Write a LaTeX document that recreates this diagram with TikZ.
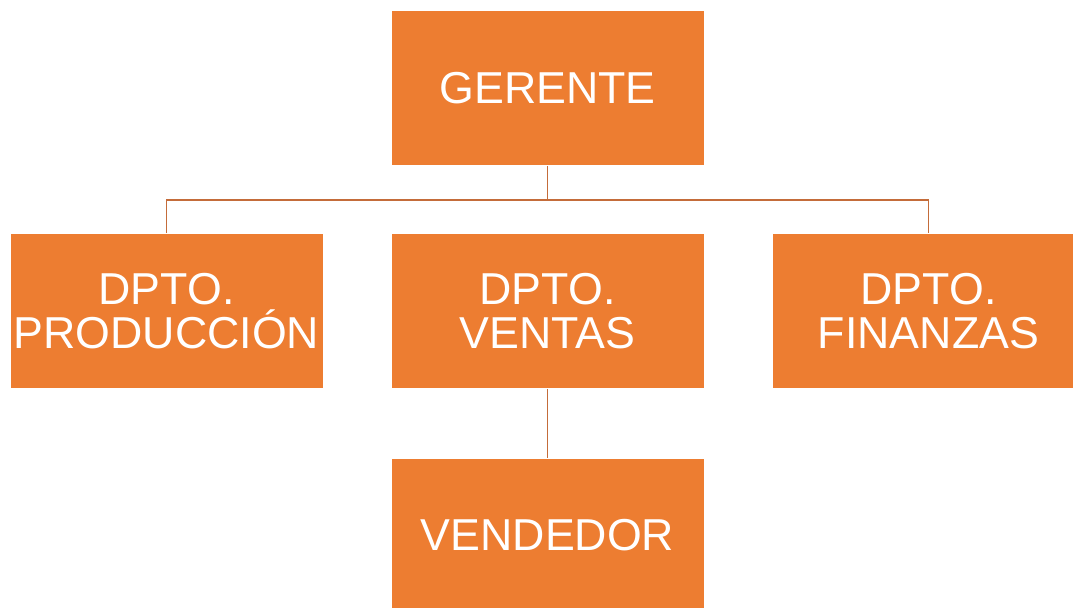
\documentclass[tikz,border=0pt]{standalone}
\usepackage{fontspec}
\setmainfont{Liberation Sans}
\definecolor{boxorange}{RGB}{237,125,49}
\definecolor{wireorange}{RGB}{196,108,58}
\tikzset{
	unit/.style={draw=white, line width=0.6pt, fill=boxorange, text=white, minimum width=7.825cm, minimum height=3.875cm, align=center, inner sep=0pt, font=\fontsize{31.8}{31.8}\selectfont},
	wire/.style={draw=wireorange, line width=1.4pt}
}
\begin{document}
\begin{tikzpicture}[x=0.025cm, y=-0.025cm]
	% Boxes, names and wires:
	\useasboundingbox (0, 0) rectangle (1073, 607);
	\node[unit] (gerente) at (547.5, 88) {GERENTE};
	\node[unit] (produccion) at (166.5, 311) {DPTO.\\PRODUCCIÓN};
	\node[unit] (ventas) at (547.5, 311) {DPTO.\\VENTAS};
	\node[unit] (finanzas) at (928.5, 311) {DPTO.\\FINANZAS};
	\node[unit] (vendedor) at (547.5, 535.5) {VENDEDOR};
	\coordinate (bar) at (547.5, 200);
	\draw[wire] (gerente.south) -- (bar);
	\draw[wire] (produccion.north) |- (bar) -| (finanzas.north);
	\draw[wire] (ventas.south) -- (vendedor.north);
\end{tikzpicture}
\end{document}
